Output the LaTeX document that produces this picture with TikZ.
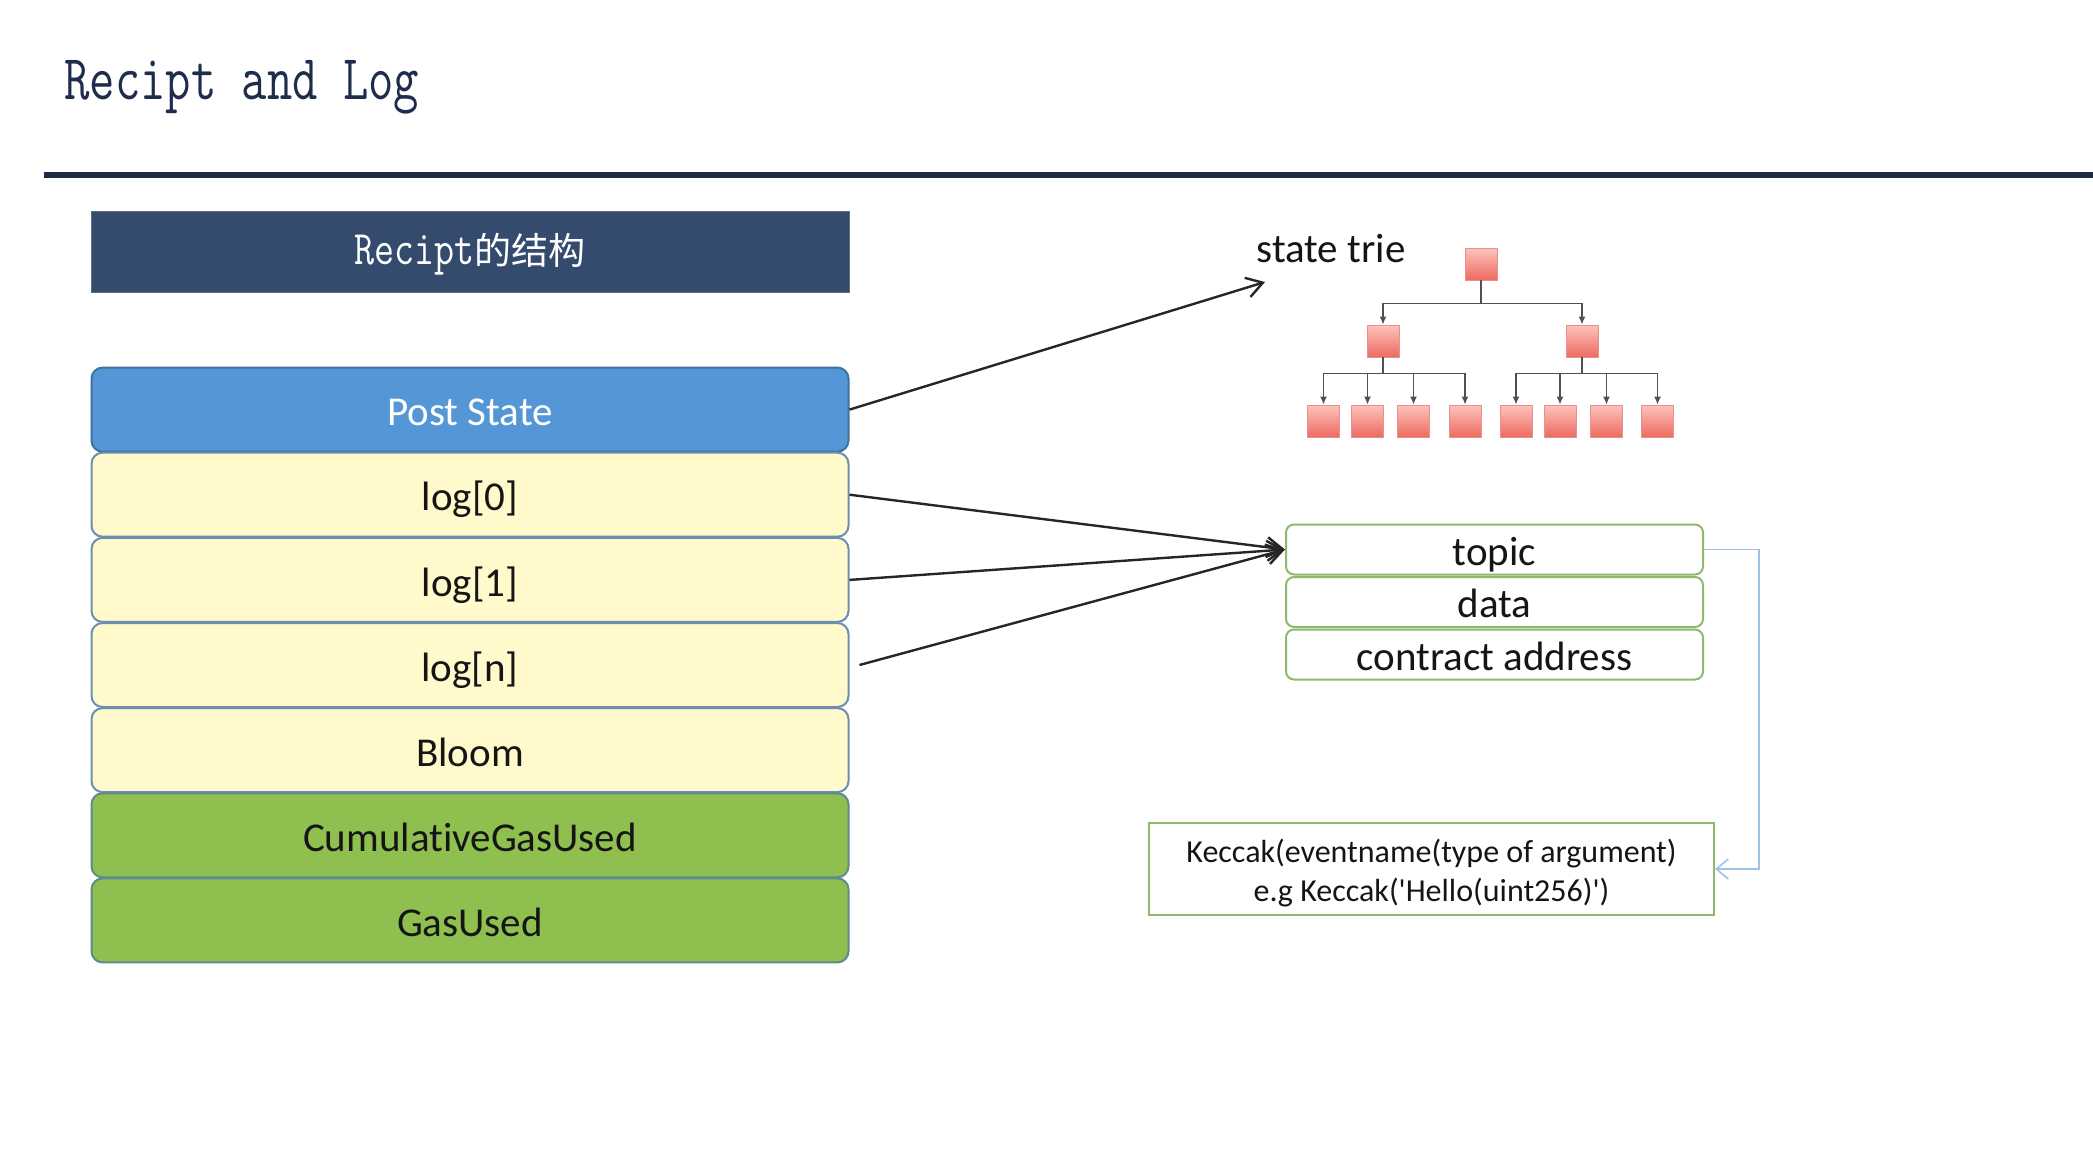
\documentclass[tikz,border=0pt]{standalone}
\usepackage{fontspec}
\setmainfont{Carlito}[Ligatures={NoCommon,NoContextual}]
\newfontfamily\cjk{Noto Sans CJK SC}
\usetikzlibrary{arrows.meta,calc}
\definecolor{titlecol}{HTML}{1F2D4D}
\definecolor{rulecol}{HTML}{1E2B45}
\definecolor{headcol}{HTML}{344B6D}
\definecolor{bluefill}{HTML}{5596D6}
\definecolor{blueedge}{HTML}{41719C}
\definecolor{yelfill}{HTML}{FFF9CC}
\definecolor{stackedge}{HTML}{6C8EB0}
\definecolor{grnfill}{HTML}{8FC04F}
\definecolor{grnedge}{HTML}{5F8A8F}
\definecolor{fieldedge}{HTML}{8DBA6C}
\definecolor{sqtop}{HTML}{FBC4BC}
\definecolor{sqbot}{HTML}{EE6A60}
\definecolor{sqedge}{HTML}{E89090}
\definecolor{treeline}{HTML}{505050}
\definecolor{linkblue}{HTML}{9DC3E6}
\definecolor{txt}{HTML}{151515}
\begin{document}
\begin{tikzpicture}[x=0.5pt,y=-0.5pt,
  stackbox/.style={draw=stackedge, line width=1pt, rounded corners=5.5pt,
    minimum width=378.5pt, minimum height=42pt, inner sep=0pt,
    text height=20pt, text depth=3.8pt,
    font=\fontsize{20.5}{24}\selectfont, text=txt, fill=yelfill},
  fieldbox/.style={draw=fieldedge, line width=1pt, rounded corners=4pt,
    minimum width=208.5pt, minimum height=25pt, inner sep=0pt,
    text height=19.5pt, text depth=3.8pt,
    font=\fontsize{20.5}{24}\selectfont, text=txt, fill=white},
  tsq/.style={minimum size=16pt, inner sep=0pt, draw=sqedge, line width=0.4pt,
    top color=sqtop, bottom color=sqbot},
  tedge/.style={draw=treeline, line width=0.75pt, -{Latex[length=4pt,width=3.5pt]}},
  bigarrow/.style={draw=black!85, line width=1.2pt, -{Straight Barb[length=8pt,width=10pt,line width=1.2pt]}},
]
\fill[white] (0,0) rectangle (2093,1157);
\useasboundingbox (0,0) rectangle (2093,1157);

% title and rule
\node[anchor=base west, inner sep=0pt, text=titlecol,
  font=\ttfamily\fontsize{24.6}{28}\selectfont] (title) at (64,99)
  {\scalebox{1}[1.3]{Recipt and Log}};
\draw[rulecol, line width=3pt] (44,175) -- (2093,175);

% header
\node[fill=headcol, draw=headcol!80!white, line width=0.5pt, minimum width=379pt,
  minimum height=40.5pt, inner sep=0pt, text=white] (head) at (470,251.5) {};
\node[text=white, inner sep=0pt, font=\fontsize{18.5}{22}\selectfont]
  (headtxt) at (470,254) {{\ttfamily\scalebox{1.05}[1.3]{Recipt}}{\cjk 的结构}};

% left stack
\node[stackbox, fill=bluefill, draw=blueedge, text=white] (post) at (470,409.6) {Post State};
\node[stackbox] (log0) at (470,494.7) {log[0]};
\node[stackbox] (log1) at (470,579.9) {log[1]};
\node[stackbox] (logn) at (470,665) {log[n]};
\node[stackbox] (bloom) at (470,750.1) {Bloom};
\node[stackbox, fill=grnfill, draw=grnedge] (cum) at (470,835.3) {CumulativeGasUsed};
\node[stackbox, fill=grnfill, draw=grnedge] (gas) at (470,920.4) {GasUsed};

% state trie
\node[font=\fontsize{20.5}{24}\selectfont, text=txt, inner sep=0pt] (stlabel) at (1331,249) {state trie};
\coordinate (sttip) at (1265,282);
\node[tsq] (root) at (1481,264) {};
\node[tsq] (la) at (1383,341) {};
\node[tsq] (lb) at (1582,341) {};
\node[tsq] (c1) at (1323.5,421) {};
\node[tsq] (c2) at (1367.5,421) {};
\node[tsq] (c3) at (1413.5,421) {};
\node[tsq] (c4) at (1465,421) {};
\node[tsq] (c5) at (1516,421) {};
\node[tsq] (c6) at (1560,421) {};
\node[tsq] (c7) at (1606.5,421) {};
\node[tsq] (c8) at (1657.5,421) {};
\foreach \k in {la,lb} \draw[tedge] (root.south) -- ++(0,23) -| (\k.north);
\foreach \k in {c1,c2,c3,c4} \draw[tedge] (la.south) -- ++(0,16) -| (\k.north);
\foreach \k in {c5,c6,c7,c8} \draw[tedge] (lb.south) -- ++(0,16) -| (\k.north);

% log fields
\node[fieldbox] (topic) at (1494.5,549.5) {topic};
\node[fieldbox] (data) at (1494.5,602) {data};
\node[fieldbox] (caddr) at (1494.5,654.5) {contract address};

% keccak box
\node[draw=fieldedge, line width=1pt, fill=white, minimum width=282.5pt,
  minimum height=46pt, inner sep=0pt] (keccak) at (1431.5,869) {};
\node[inner sep=0pt, align=center, text=txt,
  font=\fontsize{16}{19.5}\selectfont] (kecctxt) at (1431.5,873)
  {Keccak(eventname(type of argument)\\e.g Keccak(\textquotesingle Hello(uint256)\textquotesingle)};

% connectors
\draw[bigarrow] (post.east) -- (sttip);
\draw[bigarrow] (log0.east) -- (topic.west);
\draw[bigarrow] (log1.east) -- (topic.west);
\draw[bigarrow] ([xshift=5pt]logn.east) -- (topic.west);
\draw[linkblue, line width=0.8pt, -{Straight Barb[length=6pt,width=10pt,line width=0.8pt]}]
  (topic.east) -- ++(55,0) |- (keccak.east);
\end{tikzpicture}
\end{document}
